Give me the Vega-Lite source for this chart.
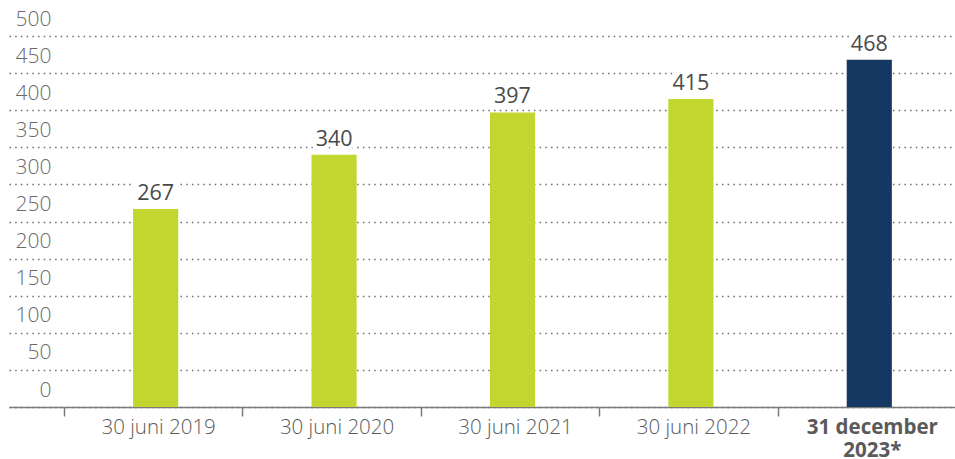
{
  "$schema": "https://vega.github.io/schema/vega-lite/v6.json",
  "autosize": {"type": "none"},
  "width": 947,
  "height": 371,
  "padding": {"left": 9, "top": 36, "right": 0, "bottom": 52},
  "background": "white",
  "config": {"view": {"stroke": null}, "font": "Open Sans"},
  "data": {"values": [
    {"periode": "30 juni 2019", "waarde": 267, "type": "historisch"},
    {"periode": "30 juni 2020", "waarde": 340, "type": "historisch"},
    {"periode": "30 juni 2021", "waarde": 397, "type": "historisch"},
    {"periode": "30 juni 2022", "waarde": 415, "type": "historisch"},
    {"periode": "31 december 2023*", "waarde": 468, "type": "actueel"}
  ]},
  "encoding": {
    "x": {
      "field": "periode", "type": "nominal", "sort": null,
      "scale": {"paddingInner": 0, "paddingOuter": 0.154, "align": 1},
      "axis": {
        "title": null, "labelAngle": 0, "tickBand": "extent",
        "domainColor": "#7a7a7a", "domainWidth": 1.5,
        "tickColor": "#7a7a7a", "tickWidth": 1.5, "tickSize": 9,
        "labelFont": "Open Sans", "labelFontSize": 20.5, "labelColor": "#5a5a5a",
        "labelFontWeight": {"condition": {"test": "datum.value == '31 december 2023*'", "value": "bold"}, "value": 300},
        "labelExpr": "datum.value == '31 december 2023*' ? ['31 december', '2023*'] : datum.value",
        "labelPadding": 1, "labelOffset": 5, "labelLineHeight": 23
      }
    },
    "y": {
      "field": "waarde", "type": "quantitative",
      "scale": {"domain": [0, 500], "nice": false},
      "axis": {
        "title": null, "values": [0, 50, 100, 150, 200, 250, 300, 350, 400, 450, 500],
        "domain": false, "ticks": false, "tickSize": 0,
        "labelPadding": -42, "labelAlign": "right", "labelBaseline": "middle", "labelOffset": -17,
        "labelFont": "Open Sans", "labelFontSize": 21, "labelFontWeight": 300, "labelColor": "#6a6a6a",
        "grid": true, "gridDash": [1.5, 4.2], "gridColor": "#6f6f6f", "gridWidth": 1.5
      }
    }
  },
  "layer": [
    {
      "mark": {"type": "bar", "width": {"band": 0.253}, "xOffset": 2.5},
      "encoding": {
        "color": {
          "field": "type", "type": "nominal", "legend": null,
          "scale": {"domain": ["historisch", "actueel"], "range": ["#c1d72f", "#143862"]}
        }
      }
    },
    {
      "mark": {"type": "text", "baseline": "bottom", "dy": -4, "xOffset": 2.5, "font": "Open Sans", "fontSize": 21.5, "fontWeight": 500, "stroke": "white", "strokeWidth": 8},
      "encoding": {"text": {"field": "waarde", "type": "quantitative"}}
    },
    {
      "mark": {"type": "text", "baseline": "bottom", "dy": -4, "xOffset": 2.5, "font": "Open Sans", "fontSize": 21.5, "fontWeight": 500, "color": "#4a4a4a"},
      "encoding": {"text": {"field": "waarde", "type": "quantitative"}}
    }
  ]
}
